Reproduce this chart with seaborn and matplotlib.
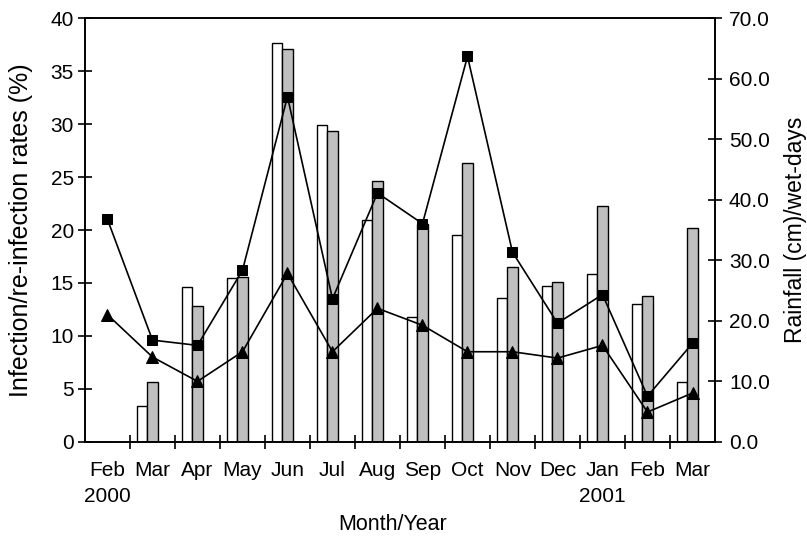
import matplotlib
matplotlib.use("Agg")
import matplotlib.pyplot as plt
from matplotlib.ticker import FormatStrFormatter
import seaborn as sns
import pandas as pd

months = ["Feb", "Mar", "Apr", "May", "Jun", "Jul", "Aug",
          "Sep", "Oct", "Nov", "Dec", "Jan", "Feb", "Mar"]
years = ["2000", "", "", "", "", "", "", "", "", "", "", "2001", "", ""]

# left axis (%)
infection = [21.0, 9.6, 9.1, 16.2, 32.6, 13.5, 23.5,
             20.6, 36.4, 17.9, 11.2, 13.9, 4.3, 9.3]
reinfection = [12.0, 8.0, 5.7, 8.5, 15.9, 8.5, 12.6,
               11.0, 8.5, 8.5, 7.9, 9.1, 2.8, 4.6]

# right axis
rainfall = [0.0, 5.9, 25.5, 27.0, 65.9, 52.4, 36.7,
            20.7, 34.2, 23.8, 25.7, 27.7, 22.8, 9.9]
wet_days = [0.0, 9.8, 22.4, 27.2, 65.0, 51.3, 43.1,
            36.0, 46.0, 28.9, 26.4, 38.9, 24.1, 35.3]

idx = list(range(len(months)))

bars = pd.DataFrame({
    "idx": idx * 2,
    "value": rainfall + wet_days,
    "series": ["rain"] * len(idx) + ["wet"] * len(idx),
})

sns.set_style("ticks")
plt.rcParams["font.family"] = ["Liberation Sans", "DejaVu Sans"]
for key in ("text.color", "axes.labelcolor", "xtick.color", "ytick.color"):
    plt.rcParams[key] = "black"

fig = plt.figure(figsize=(8.07, 5.39), dpi=100)
ax = fig.add_axes([0.1053, 0.1805, 0.7807, 0.7855])
ax2 = ax.twinx()

# third empty level keeps the grey bar centred on its month
sns.barplot(data=bars, x="idx", y="value", hue="series",
            hue_order=["rain", "wet", "pad"],
            palette={"rain": "white", "wet": "#bfbfbf", "pad": "white"},
            width=0.69, gap=0, edgecolor="black", linewidth=1.0,
            errorbar=None, legend=False, ax=ax2)

sns.lineplot(x=idx, y=infection, marker="s", markersize=7.8, color="black",
             markeredgecolor="black", linewidth=1.2, ax=ax)
sns.lineplot(x=idx, y=reinfection, marker="^", markersize=8.5, color="black",
             markeredgecolor="black", linewidth=1.2, ax=ax)

ax.set_zorder(ax2.get_zorder() + 1)
ax.patch.set_visible(False)

ax.set_xlim(-0.5, len(months) - 0.5)
ax.set_ylim(0, 40)
ax.set_yticks(range(0, 41, 5))
ax2.set_ylim(0, 70)
ax2.set_yticks(range(0, 71, 10))
ax2.yaxis.set_major_formatter(FormatStrFormatter("%.1f"))

ax.set_xticks(idx)
ax.set_xticklabels([m + ("\n" + y if y else "") for m, y in zip(months, years)])
for lbl in ax.get_xticklabels():
    lbl.set_linespacing(1.45)
ax.set_xticks([i + 0.5 for i in idx[:-1]], minor=True)

ax.tick_params(axis="x", which="major", length=0, pad=14, labelsize=15)
ax.tick_params(axis="x", which="minor", direction="inout", length=10, width=1.2)
ax.tick_params(axis="y", direction="inout", length=10, width=1.2, pad=3, labelsize=15)
ax2.tick_params(axis="y", direction="inout", length=10, width=1.2, pad=5, labelsize=15)

for a in (ax, ax2):
    for s in a.spines.values():
        s.set_visible(True)
        s.set_linewidth(1.2)
        s.set_color("black")

ax.set_xlabel("Month/Year", fontsize=15.5)
ax.xaxis.set_label_coords(0.489, -0.171)
ax.set_ylabel("Infection/re-infection rates (%)", fontsize=18)
ax.yaxis.set_label_coords(-0.102, 0.5)
ax.yaxis.label.set_va("center")
ax2.set_ylabel("Rainfall (cm)/wet-days", fontsize=16.5)
ax2.yaxis.set_label_coords(1.128, 0.5)
ax2.yaxis.label.set_va("center")

fig.savefig("out.png", dpi=100)
